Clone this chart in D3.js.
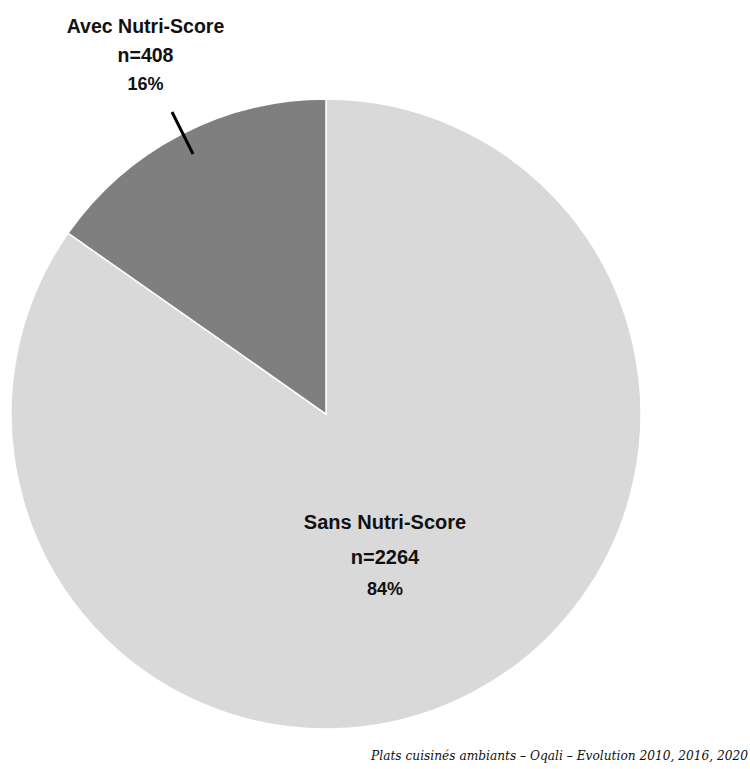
<!DOCTYPE html>
<html><head><meta charset="utf-8">
<script src="https://cdn.jsdelivr.net/npm/d3@7"></script>
<style>body{margin:0;background:#fff}svg{display:block}</style>
</head><body>
<svg id="c" width="750" height="769"></svg>
<script>
const categories = ["Sans Nutri-Score", "Avec Nutri-Score"];
const counts = [2264, 408];
const percents = ["84%", "16%"];
const colors = ["#d9d9d9", "#7f7f7f"];
const footer = "Plats cuisinés ambiants – Oqali – Evolution 2010, 2016, 2020";

const svg = d3.select("#c");
const cx = 326, cy = 414, r = 315;
const data = categories.map((c,i)=>({cat:c, n:counts[i], pct:percents[i], color:colors[i]}));
const pie = d3.pie().value(d=>d.n).sort(null);
const arc = d3.arc().innerRadius(0).outerRadius(r);
const g = svg.append("g").attr("transform", `translate(${cx},${cy})`);
g.selectAll("path").data(pie(data)).join("path")
  .attr("d", arc).attr("fill", d=>d.data.color)
  .attr("stroke", "#fff").attr("stroke-width", 1.5);

// leader line for small slice
svg.append("line").attr("x1",172).attr("y1",112).attr("x2",193).attr("y2",154)
  .attr("stroke","#000").attr("stroke-width",3);

function label(x, y, d, size, gaps, pctSize){
  const t = svg.append("g").attr("font-family","'Liberation Sans', Arial, sans-serif")
    .attr("font-weight","bold").attr("font-size",size).attr("text-anchor","middle").attr("fill","#111");
  t.append("text").attr("x",x).attr("y",y).text(d.cat);
  t.append("text").attr("x",x).attr("y",y+gaps[0]).text("n="+d.n);
  t.append("text").attr("x",x).attr("y",y+gaps[1]).attr("font-size",pctSize).text(d.pct);
}
label(145.5, 33, data[1], 19.5, [28.5, 57], 18);
label(385, 529, data[0], 20, [35, 66], 18);

svg.append("text").attr("x",748).attr("y",760).attr("text-anchor","end")
  .attr("font-family","'DejaVu Serif', serif").attr("font-style","italic")
  .attr("font-size",12.2).attr("fill","#111").text(footer);
</script>
</body></html>
